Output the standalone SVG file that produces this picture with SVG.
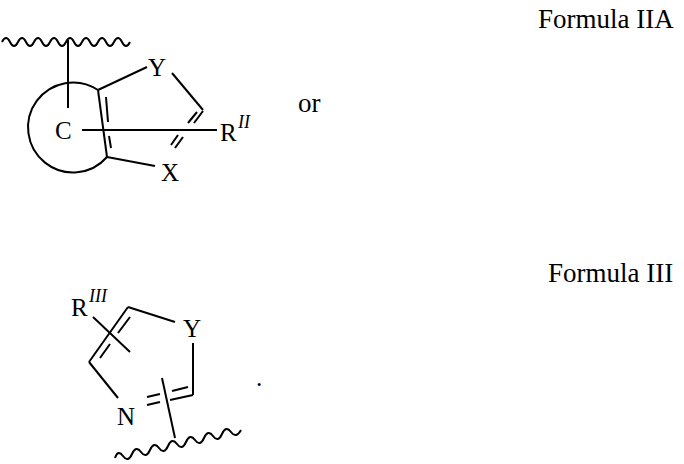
<svg xmlns="http://www.w3.org/2000/svg" width="684" height="464" viewBox="0 0 684 464">
<style>
line,path{stroke:#000;stroke-width:2;fill:none}
text{font-family:"Liberation Serif",serif;font-size:25px;fill:#000}
.big{font-size:27px}
.sup{font-style:italic;font-size:18px}
</style>
<rect width="684" height="464" fill="#fff"/>
<g id="labels">
<text class="big" x="538" y="28">Formula IIA</text>
<text class="big" x="298" y="112">or</text>
<text class="big" x="548" y="282">Formula III</text>
<text x="256" y="386">.</text>
</g>
<g id="formula2a">
<path d="M2,42 q4,-8 8,0 t8,0 t8,0 t8,0 t8,0 t8,0 t8,0 t8,0 t8,0 t8,0 t8,0 t8,0 t8,0 t8,0 t8,0 t8,0"/>
<line x1="68" y1="40" x2="68" y2="108"/>
<path d="M98,90 A45,45 0 1 0 107,157"/>
<text x="55" y="139">C</text>
<line x1="82" y1="130" x2="217" y2="130"/>
<text x="220" y="141">R</text><text class="sup" x="238" y="128">II</text>
<line x1="98" y1="90" x2="147" y2="67"/>
<text x="148" y="76">Y</text>
<line x1="172" y1="73" x2="203" y2="110"/>
<text x="161" y="181">X</text>
<line x1="107" y1="157" x2="155" y2="166"/>
<line x1="98" y1="90" x2="107" y2="157"/>
<line x1="106" y1="97" x2="108" y2="122"/>
<line x1="109" y1="136" x2="111" y2="148"/>
<line x1="203" y1="111" x2="194" y2="123"/>
<line x1="197" y1="112" x2="188" y2="123"/>
<line x1="183" y1="137" x2="175" y2="148"/>
<line x1="178" y1="135" x2="171" y2="145"/>
</g>
<g id="formula3">
<text x="71" y="316">R</text><text class="sup" x="89" y="302">III</text>
<line x1="93" y1="317" x2="130" y2="352"/>
<line x1="128" y1="307" x2="175" y2="322"/>
<text x="183" y="337">Y</text>
<line x1="193" y1="343" x2="193" y2="395"/>
<line x1="193" y1="395" x2="170" y2="400"/>
<line x1="160" y1="402" x2="147" y2="405"/>
<line x1="188" y1="387" x2="172" y2="391"/>
<line x1="160" y1="394" x2="147" y2="397"/>
<text x="117" y="425">N</text>
<line x1="118" y1="398" x2="89" y2="362"/>
<line x1="89" y1="362" x2="128" y2="307"/>
<line x1="100" y1="358" x2="110" y2="344"/>
<line x1="118" y1="333" x2="130" y2="317"/>
<line x1="162" y1="378" x2="175" y2="438"/>
<path d="M115,458 q3,-9 8,-2 t9,-2 t9,-2 t9,-2 t9,-2 t9,-2 t9,-2 t9,-2 t9,-2 t9,-2 t9,-2 t9,-2 t9,-2 t10,-2"/>
</g>
</svg>
